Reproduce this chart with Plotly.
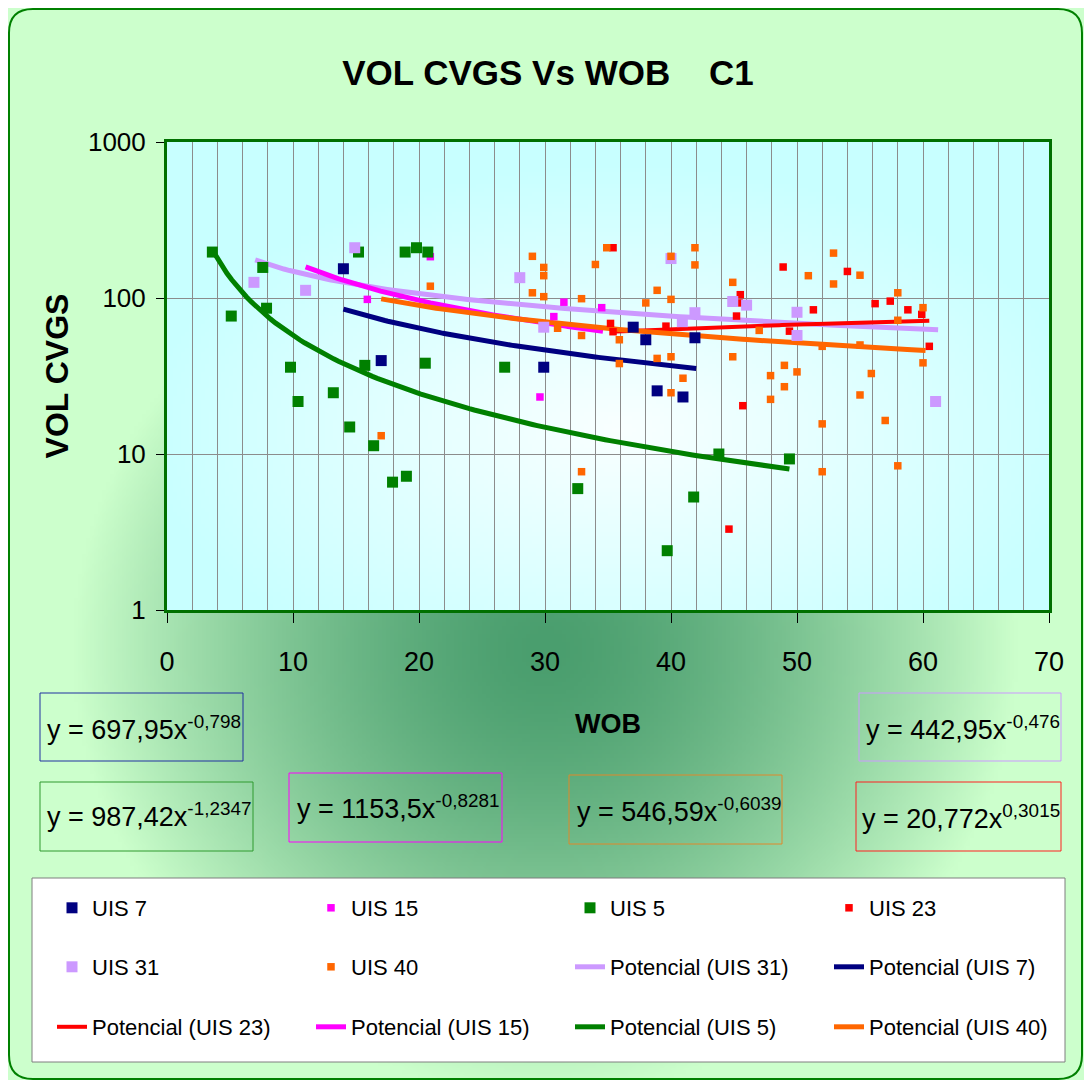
import zlib, struct, base64
import numpy as np
import plotly.graph_objects as go

# ---------------- data ----------------
uis7_x = [14.0, 17.0, 29.9, 37.0, 38.0, 41.9, 38.9, 40.95]
uis7_y = [154, 39.7, 36, 65, 54, 55.6, 25.4, 23.2]

uis15_x = [15.9, 20.9, 29.6, 31.5, 30.7, 34.5]
uis15_y = [98, 184, 23.2, 94, 76, 86.7]

uis5_x = [3.6, 7.6, 5.1, 7.9, 9.8, 10.4, 13.2, 15.2, 15.7, 14.5, 16.4, 17.9, 18.9,
          19.8, 20.7, 20.5, 19.0, 26.8, 32.6, 39.7, 41.8, 43.8, 49.4]
uis5_y = [197, 157, 76.6, 86, 36, 21.7, 24.7, 197, 37, 14.9, 11.3, 6.6, 197,
          210, 197, 38.2, 7.2, 36, 6.0, 2.4, 5.3, 10, 9.3]

uis23_x = [35.4, 35.2, 35.4, 39.6, 44.6, 45.7, 45.5, 45.4, 45.2, 48.9, 51.3, 49.4,
           54.0, 56.2, 57.4, 58.8, 59.9, 60.5]
uis23_y = [210, 68.7, 60.8, 66, 3.3, 20.4, 105, 93, 76.6, 158, 84, 61.3,
           148, 92, 95.5, 84, 78.5, 49]

uis31_x = [6.9, 11.0, 14.9, 28.0, 29.9, 40.0, 40.9, 41.9, 44.9, 46.0, 50.0, 50.0, 61.0]
uis31_y = [126, 112, 210, 135, 65, 179, 70.5, 80.5, 95, 90, 81, 57.5, 21.7]

uis40_x = [17.0, 20.9, 29.0, 29.9, 29.9, 29.0, 29.9, 32.9, 34.0, 34.9, 31.0, 32.9, 32.9,
           40.0, 41.9, 41.9, 38.9, 38.0, 40.0, 35.9, 35.9, 38.9, 40.0, 40.95, 40.0,
           52.0, 52.0, 44.9, 44.9, 50.9, 47.0, 47.9, 49.0, 50.0, 49.0, 47.9,
           52.9, 52.9, 55.0, 58.0, 60.0, 58.0, 60.0, 55.9, 55.0, 57.0, 58.0, 55.0, 52.0]
uis40_y = [13.1, 119, 185, 157, 139, 108, 102, 99, 164, 210, 64, 57.5, 7.7,
           185, 210, 163, 112, 93, 98, 54, 38, 41, 42, 30.6, 24.7,
           15.6, 7.7, 126, 42, 139, 62, 31.8, 37, 33.6, 27, 22.4,
           194, 123, 140, 108, 86.7, 72, 38.4, 32.8, 23.9, 16.4, 8.4, 50, 49]

# power trendlines (y = a * x^b) as displayed on the chart
trend_names = ["UIS 31", "UIS 7", "UIS 23", "UIS 15", "UIS 5", "UIS 40"]
trend_a = [442.95, 697.95, 20.772, 1153.5, 987.42, 546.59]
trend_b = [-0.476, -0.798, 0.3015, -0.8281, -1.2347, -0.6039]
trend_xmin = [7.0, 14.0, 35.2, 11.0, 3.6, 17.0]
trend_xmax = [61.2, 42.0, 60.5, 34.6, 49.4, 60.2]
trend_labels = ["y = 442,95x<sup>-0,476</sup>", "y = 697,95x<sup>-0,798</sup>",
                "y = 20,772x<sup>0,3015</sup>", "y = 1153,5x<sup>-0,8281</sup>",
                "y = 987,42x<sup>-1,2347</sup>", "y = 546,59x<sup>-0,6039</sup>"]

x_ticks = [0, 10, 20, 30, 40, 50, 60, 70]
y_ticks = [1, 10, 100, 1000]

# ---------------- styling ----------------
W, H = 1088, 1081
L, R, T, B = 167, 1049, 142, 610
SANS = "Liberation Sans, Arial"

def X(px):
    return (px - L) / (R - L)

def Y(py):
    return (B - py) / (B - T)

def png_uri(arr):
    h, w, _ = arr.shape
    raw = b''.join(b'\x00' + arr[i].tobytes() for i in range(h))
    def chunk(tag, data):
        c = struct.pack('>I', len(data)) + tag + data
        return c + struct.pack('>I', zlib.crc32(tag + data) & 0xffffffff)
    png = (b'\x89PNG\r\n\x1a\n' + chunk(b'IHDR', struct.pack('>IIBBBBB', w, h, 8, 2, 0, 0, 0))
           + chunk(b'IDAT', zlib.compress(raw, 9)) + chunk(b'IEND', b''))
    return 'data:image/png;base64,' + base64.b64encode(png).decode()

def radial(x0, y0, x1, y1, cx, cy, rx, ry, inner, outer, step=4, gamma=1.0):
    xs = np.arange(x0, x1, step) + step / 2
    ys = np.arange(y0, y1, step) + step / 2
    gx, gy = np.meshgrid(xs, ys)
    t = np.sqrt(((gx - cx) / rx) ** 2 + ((gy - cy) / ry) ** 2)
    t = np.clip(t, 0, 1) ** gamma
    inner = np.array(inner, float)
    outer = np.array(outer, float)
    img = inner[None, None, :] + (outer - inner)[None, None, :] * t[..., None]
    return png_uri(np.clip(img, 0, 255).astype(np.uint8))

bg_uri = radial(8, 8, 1084, 1080, 545, 650, 470, 440, (74, 158, 110), (204, 255, 204), gamma=1.5)
plot_uri = radial(L, T, R, B, 620, 430, 480, 270, (250, 255, 255), (200, 255, 255))

colors = {"UIS 7": "#000080", "UIS 15": "#ff00ff", "UIS 5": "#008000",
          "UIS 23": "#ff0000", "UIS 31": "#cc99ff", "UIS 40": "#ff6600"}
line_w = {"UIS 7": 5, "UIS 15": 5, "UIS 5": 5, "UIS 23": 4, "UIS 31": 5, "UIS 40": 5}

fig = go.Figure()

# trendlines (drawn first, under the points)
trend_legend = {"UIS 31": ("legend2", 3), "UIS 7": ("legend2", 4),
                "UIS 23": ("legend3", 1), "UIS 15": ("legend3", 2),
                "UIS 5": ("legend3", 3), "UIS 40": ("legend3", 4)}
for name, a, b, lo, hi in zip(trend_names, trend_a, trend_b, trend_xmin, trend_xmax):
    xs = np.linspace(lo, hi, 120)
    ys = a * xs ** b
    lg, rank = trend_legend[name]
    fig.add_trace(go.Scatter(x=xs, y=ys, mode="lines", name=f"Potencial ({name})",
                             line=dict(color=colors[name], width=line_w[name]),
                             legend=lg, legendrank=rank, hoverinfo="skip"))

series = [("UIS 7", uis7_x, uis7_y, 11, "legend", 1),
          ("UIS 15", uis15_x, uis15_y, 7.5, "legend", 2),
          ("UIS 5", uis5_x, uis5_y, 11, "legend", 3),
          ("UIS 23", uis23_x, uis23_y, 7.5, "legend", 4),
          ("UIS 31", uis31_x, uis31_y, 11, "legend2", 1),
          ("UIS 40", uis40_x, uis40_y, 7.5, "legend2", 2)]
for name, xs, ys, sz, lg, rank in series:
    fig.add_trace(go.Scatter(x=xs, y=ys, mode="markers", name=name,
                             marker=dict(symbol="square", size=sz, color=colors[name],
                                         line=dict(width=0)),
                             legend=lg, legendrank=rank))

# frame / boxes
def rounded_path(x0, y0, x1, y1, r):
    p = [f"M {X(x0 + r)},{Y(y0)}", f"L {X(x1 - r)},{Y(y0)}", f"Q {X(x1)},{Y(y0)} {X(x1)},{Y(y0 + r)}",
         f"L {X(x1)},{Y(y1 - r)}", f"Q {X(x1)},{Y(y1)} {X(x1 - r)},{Y(y1)}",
         f"L {X(x0 + r)},{Y(y1)}", f"Q {X(x0)},{Y(y1)} {X(x0)},{Y(y1 - r)}",
         f"L {X(x0)},{Y(y0 + r)}", f"Q {X(x0)},{Y(y0)} {X(x0 + r)},{Y(y0)}", "Z"]
    return " ".join(p)

shapes = [dict(type="path", path=rounded_path(9, 9, 1082, 1079, 24), xref="paper", yref="paper",
               line=dict(color="#008000", width=2), layer="above"),
          dict(type="rect", xref="paper", yref="paper", x0=X(32), x1=X(1065), y0=Y(878), y1=Y(1062),
               fillcolor="white", line=dict(color="#7f7f7f", width=1), layer="below")]

eq_boxes = {  # name: (x0, y0, x1, y1, border colour, text x, text y)
    "UIS 7": (40, 693, 243, 761, "#2030a0", 45, 728),
    "UIS 31": (859, 693, 1061, 761, "#cc99ff", 864, 728),
    "UIS 5": (40, 782, 253, 851, "#2e9a2e", 45, 815),
    "UIS 15": (289, 773, 502, 842, "#ff00ff", 295, 807),
    "UIS 40": (569, 775, 782, 844, "#e0882a", 575, 810),
    "UIS 23": (856, 782, 1061, 851, "#ff2020", 860, 817),
}
annotations = []
for name, lab in zip(trend_names, trend_labels):
    x0, y0, x1, y1, col, tx, ty = eq_boxes[name]
    shapes.append(dict(type="rect", xref="paper", yref="paper", x0=X(x0), x1=X(x1),
                       y0=Y(y0), y1=Y(y1), line=dict(color=col, width=1),
                       fillcolor="rgba(0,0,0,0)", layer="above"))
    annotations.append(dict(text=lab, xref="paper", yref="paper", x=X(tx), y=Y(ty),
                            xanchor="left", yanchor="middle", showarrow=False,
                            font=dict(family=SANS, size=27, color="black")))

images = [dict(source=bg_uri, xref="paper", yref="paper", x=X(8), y=Y(8),
               sizex=X(1084) - X(8), sizey=Y(8) - Y(1080), xanchor="left", yanchor="top",
               sizing="stretch", layer="below"),
          dict(source=plot_uri, xref="paper", yref="paper", x=0, y=1, sizex=1, sizey=1,
               xanchor="left", yanchor="top", sizing="stretch", layer="below")]

legend_common = dict(orientation="h", xanchor="left", yanchor="middle", bgcolor="rgba(0,0,0,0)",
                     font=dict(family=SANS, size=22, color="black"), entrywidth=214,
                     entrywidthmode="pixels", itemclick=False, itemdoubleclick=False)

fig.update_layout(
    width=W, height=H, autosize=False,
    margin=dict(l=L, r=W - R, t=T, b=H - B, pad=0),
    paper_bgcolor="white", plot_bgcolor="rgba(0,0,0,0)",
    title=dict(text="<b>VOL CVGS Vs WOB    C1</b>", x=548 / W, y=1 - 73 / H, xref="container",
               yref="container", xanchor="center", yanchor="middle",
               font=dict(family=SANS, size=35, color="black")),
    xaxis=dict(range=[0, 70], tickvals=x_ticks, ticktext=[str(v) for v in x_ticks],
               showgrid=True, gridcolor="#8c8c8c", gridwidth=1,
               minor=dict(dtick=2, showgrid=True, gridcolor="#8c8c8c", gridwidth=1, ticks=""),
               ticks="outside", ticklen=10, tickcolor="black", tickwidth=1,
               ticklabelstandoff=16,
               showline=True, linecolor="#007000", linewidth=3, mirror=True, zeroline=False,
               tickfont=dict(family=SANS, size=27, color="black"),
               title=dict(text="<b>WOB</b>", standoff=38,
                          font=dict(family=SANS, size=27, color="black"))),
    yaxis=dict(type="log", range=[0, 3], tickvals=y_ticks, ticktext=[str(v) for v in y_ticks],
               showgrid=True, gridcolor="#8c8c8c", gridwidth=1,
               ticks="outside", ticklen=8, tickcolor="black", tickwidth=1,
               ticklabelstandoff=5,
               showline=True, linecolor="#007000", linewidth=3, mirror=True, zeroline=False,
               tickfont=dict(family=SANS, size=26, color="black"),
               title=dict(text="<b>VOL CVGS</b>", standoff=10,
                          font=dict(family=SANS, size=32, color="black"))),
    legend=dict(x=X(61), y=Y(908), **legend_common),
    legend2=dict(x=X(61), y=Y(967), **legend_common),
    legend3=dict(x=X(61), y=Y(1027), **legend_common),
    shapes=shapes, annotations=annotations, images=images,
    showlegend=True,
)

fig.write_html("out.html", config={"displayModeBar": False},
               post_script="document.body.style.margin='0';document.body.style.overflow='hidden';")
